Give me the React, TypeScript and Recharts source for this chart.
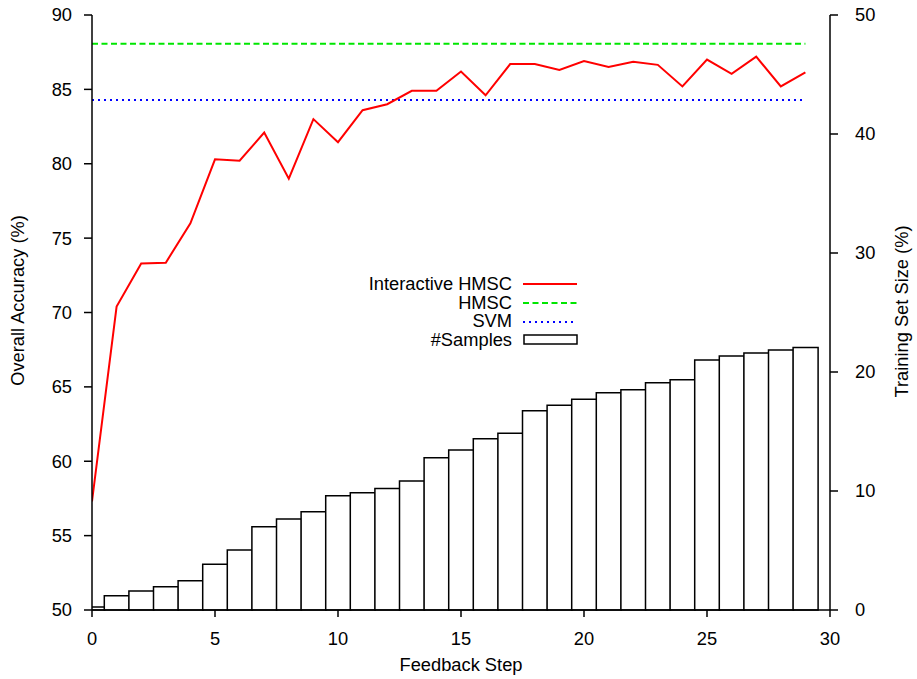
import React from "react";
import { ComposedChart, Line, Bar, XAxis, YAxis, ReferenceLine, Legend } from "recharts";

const steps = [0, 1, 2, 3, 4, 5, 6, 7, 8, 9, 10, 11, 12, 13, 14, 15, 16, 17, 18, 19, 20, 21, 22, 23, 24, 25, 26, 27, 28, 29];
const interactiveHmsc = [
  57.3, 70.4, 73.3, 73.35, 76.0, 80.3, 80.2, 82.1, 79.0, 83.0,
  81.45, 83.6, 84.0, 84.9, 84.9, 86.2, 84.6, 86.7, 86.7, 86.3,
  86.9, 86.5, 86.85, 86.65, 85.2, 87.0, 86.05, 87.2, 85.2, 86.15,
];
const samples = [
  0.25, 1.2, 1.6, 1.95, 2.45, 3.85, 5.05, 7.0, 7.65, 8.25,
  9.6, 9.85, 10.2, 10.85, 12.8, 13.45, 14.4, 14.85, 16.75, 17.2,
  17.7, 18.25, 18.5, 19.1, 19.35, 21.0, 21.35, 21.6, 21.85, 22.05,
];
const hmscAccuracy = 88.07;
const svmAccuracy = 84.28;

const xTicks = [0, 5, 10, 15, 20, 25, 30];
const accTicks = [50, 55, 60, 65, 70, 75, 80, 85, 90];
const sizeTicks = [0, 10, 20, 30, 40, 50];

const data = steps.map((s, i) => ({ step: s, acc: interactiveHmsc[i], samples: samples[i] }));

const FONT = "'Liberation Sans', Arial, Helvetica, sans-serif";
const FONT_SIZE = 18.3;
const tickStyle = { fill: "#000", fontSize: FONT_SIZE, fontFamily: FONT };
const axisStroke = { stroke: "#000", strokeWidth: 1.5 };

const legendRows = [
  { name: "Interactive HMSC", kind: "solid", color: "#ff0000" },
  { name: "HMSC", kind: "dash", color: "#00e600" },
  { name: "SVM", kind: "dot", color: "#0000ff" },
  { name: "#Samples", kind: "box", color: "#000" },
];

const LegendBox = () => (
  <div style={{ fontFamily: FONT, fontSize: FONT_SIZE, color: "#000" }}>
    {legendRows.map((r) => (
      <div key={r.name} style={{ display: "flex", alignItems: "center", height: 18.7 }}>
        <div style={{ width: 212, textAlign: "right", lineHeight: "18.7px", whiteSpace: "nowrap" }}>{r.name}</div>
        <svg width={66} height={18} style={{ marginLeft: 11 }}>
          {r.kind === "box" ? (
            <rect x={1} y={4} width={53} height={9} fill="#fff" stroke="#000" strokeWidth={1.5} />
          ) : (
            <line
              x1={0}
              x2={54}
              y1={9}
              y2={9}
              stroke={r.color}
              strokeWidth={2}
              strokeDasharray={r.kind === "dash" ? "6 3.5" : r.kind === "dot" ? "2 4" : undefined}
            />
          )}
        </svg>
      </div>
    ))}
  </div>
);

export default function App() {
  return (
    <div style={{ position: "absolute", left: 0, top: 0, background: "#fff" }}>
      <ComposedChart
        width={917}
        height={679}
        data={data}
        margin={{ top: 15, right: 0, bottom: 0, left: 0 }}
        barCategoryGap={0}
        barGap={0}
        style={{ fontFamily: FONT }}
      >
        <XAxis
          dataKey="step"
          type="number"
          domain={[0, 30]}
          ticks={xTicks}
          allowDataOverflow
          height={69}
          tick={tickStyle}
          tickSize={7}
          tickMargin={15}
          axisLine={axisStroke}
          tickLine={axisStroke}
          label={{ value: "Feedback Step", position: "insideBottom", offset: 8, fill: "#000", fontSize: FONT_SIZE, fontFamily: FONT }}
        />
        <XAxis
          xAxisId="top"
          orientation="top"
          dataKey="step"
          type="number"
          domain={[0, 30]}
          ticks={xTicks}
          height={0}
          tick={false}
          tickSize={7}
          axisLine={axisStroke}
          tickLine={axisStroke}
        />
        <YAxis
          yAxisId="acc"
          domain={[50, 90]}
          ticks={accTicks}
          width={92}
          tick={tickStyle}
          tickSize={8}
          tickMargin={12}
          axisLine={axisStroke}
          tickLine={axisStroke}
          label={{ value: "Overall Accuracy (%)", angle: -90, position: "insideLeft", offset: 18, dy: -12, style: { textAnchor: "middle" }, fill: "#000", fontSize: FONT_SIZE, fontFamily: FONT }}
        />
        <YAxis
          yAxisId="size"
          orientation="right"
          domain={[0, 50]}
          ticks={sizeTicks}
          width={87}
          tick={tickStyle}
          tickSize={8}
          tickMargin={17}
          axisLine={axisStroke}
          tickLine={axisStroke}
          label={{ value: "Training Set Size (%)", angle: -90, position: "insideRight", offset: 15, dy: -1, style: { textAnchor: "middle" }, fill: "#000", fontSize: FONT_SIZE, fontFamily: FONT }}
        />
        <Bar yAxisId="size" dataKey="samples" fill="#fff" stroke="#000" strokeWidth={1.5} isAnimationActive={false} />
        <ReferenceLine
          yAxisId="acc"
          segment={[{ x: steps[0], y: hmscAccuracy }, { x: steps[steps.length - 1], y: hmscAccuracy }]}
          stroke="#00e600"
          strokeWidth={2}
          strokeDasharray="6 3.5"
        />
        <ReferenceLine
          yAxisId="acc"
          segment={[{ x: steps[0], y: svmAccuracy }, { x: steps[steps.length - 1], y: svmAccuracy }]}
          stroke="#0000ff"
          strokeWidth={2}
          strokeDasharray="2 4"
        />
        <Line
          yAxisId="acc"
          dataKey="acc"
          type="linear"
          stroke="#ff0000"
          strokeWidth={2}
          dot={false}
          isAnimationActive={false}
        />
        {/* middle/center legend so the plot area keeps its full size */}
        <Legend
          layout="horizontal"
          verticalAlign="middle"
          align="center"
          content={() => <LegendBox />}
          wrapperStyle={{ position: "absolute", left: 300, top: 275, width: 300 }}
        />
      </ComposedChart>
    </div>
  );
}
